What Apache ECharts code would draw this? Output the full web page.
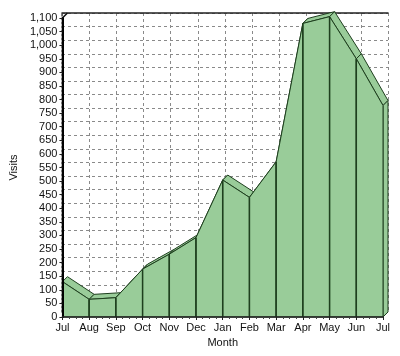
<!DOCTYPE html>
<html>
<head>
<meta charset="utf-8">
<script src="https://cdn.jsdelivr.net/npm/echarts@6/dist/echarts.min.js"></script>
<style>
html,body{margin:0;padding:0;background:#fff;}
#chart{width:400px;height:356px;}
</style>
</head>
<body>
<div id="chart"></div>
<script>
const months = ['Jul','Aug','Sep','Oct','Nov','Dec','Jan','Feb','Mar','Apr','May','Jun','Jul'];
const visits = [130, 65, 71, 176, 231, 292, 504, 440, 571, 1080, 1105, 950, 778];
const yMin = 0, yMax = 1100, yStep = 50;

const D = 5; // depth offset in px
const FILL = '#99cc99';
const EDGE = '#1e3f1e';
const FONT = '"Liberation Sans", Arial, sans-serif';

const chart = echarts.init(document.getElementById('chart'), null, {renderer: 'canvas'});

function renderArea(params, api) {
  const n = visits.length;
  const pts = visits.map((v, i) => api.coord([i, v]));
  const base = visits.map((v, i) => api.coord([i, 0]));
  const bands = [], fronts = [], lines = [];
  for (let i = 0; i < n - 1; i++) {
    const a = pts[i], b = pts[i + 1];
    bands.push({
      type: 'polygon',
      shape: {points: [a, b, [b[0] + D, b[1] - D], [a[0] + D, a[1] - D]]},
      style: {fill: FILL, stroke: EDGE, lineWidth: 1}
    });
    fronts.push({
      type: 'polygon',
      shape: {points: [a, b, base[i + 1], base[i]]},
      style: {fill: FILL, stroke: EDGE, lineWidth: 1}
    });
  }
  const last = pts[n - 1], lb = base[n - 1];
  const side = {
    type: 'polygon',
    shape: {points: [last, [last[0] + D, last[1] - D], [lb[0] + D, lb[1] - D], lb]},
    style: {fill: FILL, stroke: EDGE, lineWidth: 1}
  };
  for (let i = 1; i < n - 1; i++) {
    lines.push({
      type: 'line',
      shape: {x1: pts[i][0], y1: pts[i][1], x2: base[i][0], y2: base[i][1]},
      style: {stroke: EDGE, lineWidth: 1.5}
    });
  }
  const top = api.coord([0, yMax]);
  const corner = {
    type: 'line',
    shape: {x1: top[0], y1: top[1], x2: top[0] + D, y2: top[1] - D},
    style: {stroke: '#111', lineWidth: 1.5}
  };
  return {type: 'group', children: [corner].concat(bands, [side], fronts, lines)};
}

const option = {
  animation: false,
  backgroundColor: '#fff',
  textStyle: {fontFamily: FONT},
  grid: [
    {left: 57, right: 17, top: 18, bottom: 39},
    {left: 62, right: 12, top: 13, bottom: 44}
  ],
  xAxis: [
    {
      gridIndex: 0, type: 'value', min: 0, max: months.length - 1, interval: 1,
      z: 5,
      name: 'Month', nameLocation: 'middle', nameGap: 16,
      nameTextStyle: {fontFamily: FONT, fontSize: 11, color: '#111'},
      axisLine: {show: true, lineStyle: {color: '#222', width: 1.5}},
      axisTick: {show: true, length: 3, lineStyle: {color: '#222'}},
      minorTick: {show: true, splitNumber: 4, length: 2, lineStyle: {color: '#444'}},
      axisLabel: {margin: 5, fontFamily: FONT, fontSize: 11, color: '#111',
        formatter: v => months[v] || ''},
      splitLine: {show: false}
    },
    {
      gridIndex: 1, type: 'value', min: 0, max: months.length - 1, interval: 1,
      position: 'top',
      axisLine: {show: true, onZero: false, lineStyle: {color: '#222', width: 1.5}},
      axisTick: {show: false}, axisLabel: {show: false},
      splitLine: {show: true, lineStyle: {color: '#8a8a8a', type: [3, 3], width: 1}}
    }
  ],
  yAxis: [
    {
      gridIndex: 0, type: 'value', min: yMin, max: yMax, interval: yStep,
      z: 5,
      name: 'Visits', nameLocation: 'middle', nameGap: 30,
      nameTextStyle: {fontFamily: FONT, fontSize: 11, color: '#111'},
      axisLine: {show: true, lineStyle: {color: '#000', width: 2}},
      axisTick: {show: true, length: 3, lineStyle: {color: '#222'}},
      axisLabel: {margin: 5, fontFamily: FONT, fontSize: 11, color: '#111',
        formatter: v => v.toLocaleString('en-US')},
      splitLine: {show: false}
    },
    {
      gridIndex: 1, type: 'value', min: yMin, max: yMax, interval: yStep,
      position: 'right',
      axisLine: {show: true, lineStyle: {color: '#555', type: [2, 2], width: 1.5}},
      axisTick: {show: false}, axisLabel: {show: false},
      splitLine: {show: true, lineStyle: {color: '#8a8a8a', type: [3, 3], width: 1}}
    }
  ],
  series: [
    {
      type: 'custom',
      xAxisIndex: 0, yAxisIndex: 0,
      clip: false,
      z: 3,
      data: [[0, 0]],
      renderItem: renderArea
    }
  ]
};
chart.setOption(option);
</script>
</body>
</html>
